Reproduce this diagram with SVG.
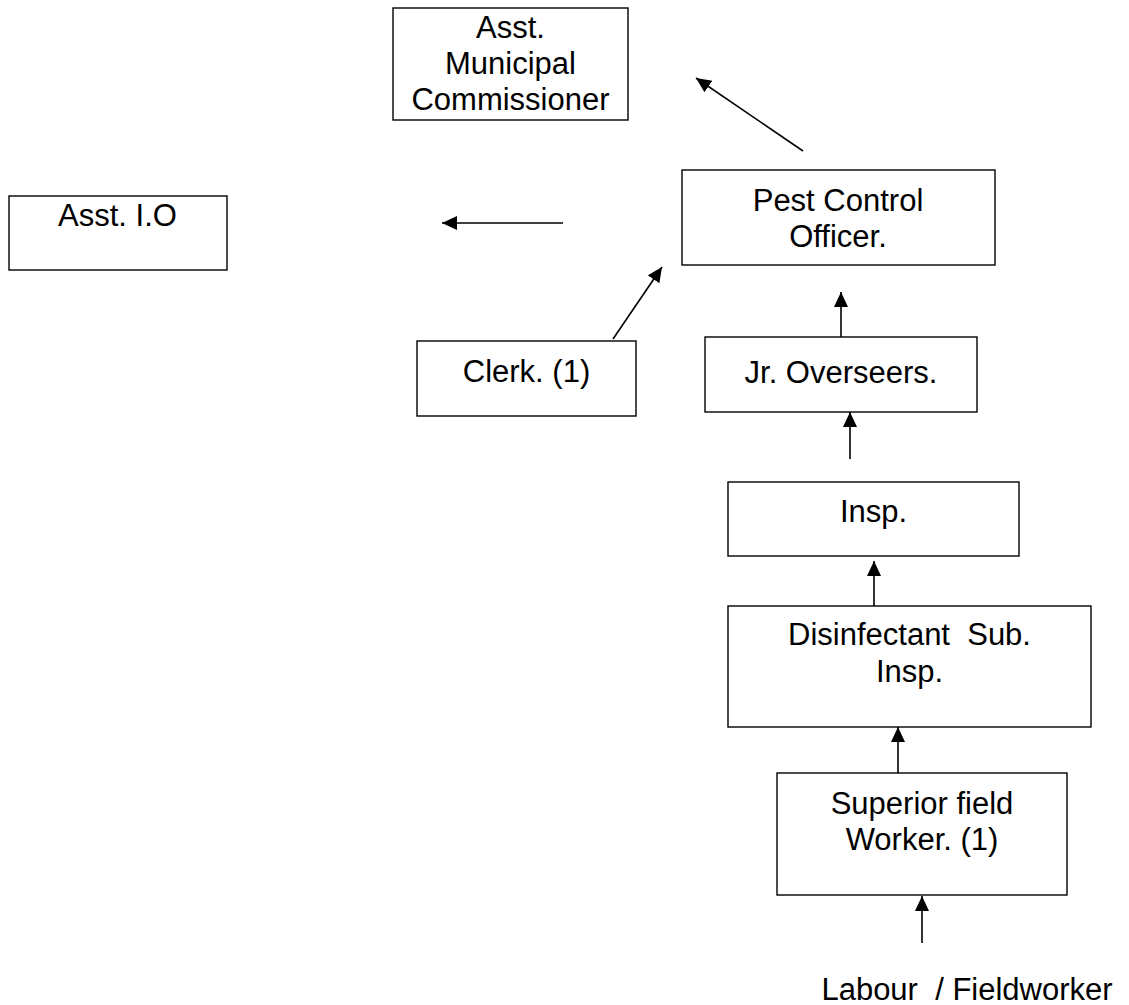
<svg xmlns="http://www.w3.org/2000/svg" width="1129" height="1005" viewBox="0 0 1129 1005">
<defs>
<marker id="ah" markerUnits="userSpaceOnUse" markerWidth="18" markerHeight="16" refX="15" refY="7" orient="auto">
<path d="M0,0 L15,7 L0,14 Z" fill="#000"/>
</marker>
<style>
.box{fill:#fff;stroke:#000;stroke-width:1.4}
.t{font-family:"Liberation Sans",Arial,sans-serif;font-size:31px;fill:#000;text-anchor:middle;white-space:pre}
.c{stroke:#000;stroke-width:1.6;fill:none;marker-end:url(#ah)}
</style>
</defs>
<rect width="1129" height="1005" fill="#fff"/>
<g id="amc">
<rect class="box" x="393" y="8" width="235" height="112"/>
<text class="t" x="510.5" y="38">Asst.</text>
<text class="t" x="510.5" y="74">Municipal</text>
<text class="t" x="510.5" y="110">Commissioner</text>
</g>
<g id="asstio">
<rect class="box" x="9" y="196" width="218" height="74"/>
<text class="t" x="117.5" y="226">Asst. I.O</text>
</g>
<g id="pco">
<rect class="box" x="682" y="170" width="313" height="95"/>
<text class="t" x="838" y="211">Pest Control</text>
<text class="t" x="838" y="247">Officer.</text>
</g>
<g id="clerk">
<rect class="box" x="417" y="341" width="219" height="75"/>
<text class="t" x="526.5" y="382">Clerk. (1)</text>
</g>
<g id="jro">
<rect class="box" x="705" y="337" width="272" height="75"/>
<text class="t" x="841" y="383">Jr. Overseers.</text>
</g>
<g id="insp">
<rect class="box" x="728" y="482" width="291" height="74"/>
<text class="t" x="873.5" y="522">Insp.</text>
</g>
<g id="dsi">
<rect class="box" x="728" y="606" width="363" height="121"/>
<text class="t" x="909.5" y="645">Disinfectant  Sub.</text>
<text class="t" x="909.5" y="682">Insp.</text>
</g>
<g id="sfw">
<rect class="box" x="777" y="773" width="290" height="122"/>
<text class="t" x="922" y="814">Superior field</text>
<text class="t" x="922" y="850">Worker. (1)</text>
</g>
<g id="labour">
<text class="t" x="967" y="1000">Labour  / Fieldworker</text>
</g>
<g id="connectors">
<line class="c" x1="803" y1="151" x2="696" y2="78"/>
<line class="c" x1="563" y1="223" x2="442" y2="223"/>
<line class="c" x1="613" y1="339" x2="662" y2="267"/>
<line class="c" x1="841" y1="337" x2="841" y2="292"/>
<line class="c" x1="850" y1="459" x2="850" y2="412"/>
<line class="c" x1="874" y1="606" x2="874" y2="561"/>
<line class="c" x1="898" y1="773" x2="898" y2="727"/>
<line class="c" x1="922" y1="943" x2="922" y2="896"/>
</g>
</svg>
